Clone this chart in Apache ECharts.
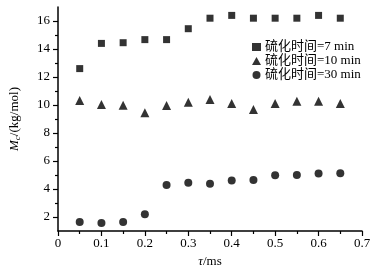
<!DOCTYPE html>
<html><head><meta charset="utf-8">
<script src="https://cdn.jsdelivr.net/npm/echarts@6/dist/echarts.min.js"></script>
<style>html,body{margin:0;padding:0;background:#fff}#c{width:377px;height:280px}</style>
</head><body><div id="c"></div>
<script>
const tau = [0.05,0.10,0.15,0.20,0.25,0.30,0.35,0.40,0.45,0.50,0.55,0.60,0.65];
const mc7 = [12.6,14.4,14.45,14.67,14.67,15.45,16.2,16.4,16.2,16.2,16.2,16.4,16.2];
const mc10 = [10.32,10.04,9.99,9.44,9.97,10.2,10.4,10.11,9.68,10.11,10.27,10.27,10.11];
const mc30 = [1.64,1.57,1.64,2.19,4.29,4.45,4.38,4.6,4.65,4.98,5.0,5.1,5.12];
const seriesNames = ['硫化时间=7 min','硫化时间=10 min','硫化时间=30 min'];
const yMajorTicks = [2,4,6,8,10,12,14,16];
const yMinorTicks = [3,5,7,9,11,13,15];
const xMinorTicks = [0.05,0.15,0.25,0.35,0.45,0.55,0.65];

const serif = '"Liberation Serif","Noto Sans CJK SC",serif';
const pair = (xs, ys) => xs.map((x,i)=>[x, ys[i]]);
const chart = echarts.init(document.getElementById('c'), null, {renderer:'canvas'});
const tickStyle = {color:'#000',width:1.2};
chart.setOption({
  animation:false,
  grid:{left:58,right:15,top:7,bottom:49},
  legend:{
    orient:'vertical', left:247, top:35, itemWidth:9, itemHeight:8, itemGap:0,
    textStyle:{fontFamily:serif,fontSize:13,color:'#000',lineHeight:14,padding:[0,0,0,-1]},
    data:seriesNames
  },
  xAxis:[{
    type:'value', min:0, max:0.7, interval:0.1,
    axisLine:{show:true,lineStyle:{color:'#000',width:1.5}}, splitLine:{show:false},
    axisTick:{show:true,inside:false,length:5,lineStyle:tickStyle},
    axisLabel:{fontFamily:serif,fontSize:13,color:'#000',margin:6, formatter:v=>String(+v.toFixed(1))},
    name:'{i|τ}/ms', nameLocation:'middle', nameGap:22,
    nameTextStyle:{fontFamily:serif,fontSize:13,color:'#000',
      rich:{i:{fontFamily:serif,fontStyle:'italic',fontSize:13,color:'#000'}}}
  },{
    type:'value', min:0, max:0.7, position:'bottom',
    axisLine:{show:false}, splitLine:{show:false},
    axisTick:{show:true,inside:false,length:3,customValues:xMinorTicks,lineStyle:tickStyle},
    axisLabel:{show:false}
  }],
  yAxis:[{
    type:'value', min:1, max:17,
    axisLine:{show:true,lineStyle:{color:'#000',width:1.5}}, splitLine:{show:false},
    axisTick:{show:true,inside:false,length:5,customValues:yMajorTicks,lineStyle:tickStyle},
    axisLabel:{fontFamily:serif,fontSize:13,color:'#000',margin:8,customValues:yMajorTicks},
    name:'{i|M}{s|c}/(kg/mol)', nameLocation:'middle', nameGap:36, nameRotate:90,
    nameTextStyle:{fontFamily:serif,fontSize:13,color:'#000',
      rich:{i:{fontFamily:serif,fontStyle:'italic',fontSize:13,color:'#000'},
            s:{fontFamily:serif,fontStyle:'italic',fontSize:9,color:'#000',verticalAlign:'bottom',padding:[6,0,0,0]}}}
  },{
    type:'value', min:1, max:17, position:'left',
    axisLine:{show:false}, splitLine:{show:false},
    axisTick:{show:true,inside:false,length:3,customValues:yMinorTicks,lineStyle:tickStyle},
    axisLabel:{show:false}
  }],
  series:[
    {name:seriesNames[0],type:'scatter',symbol:'rect',symbolSize:7,data:pair(tau,mc7),itemStyle:{color:'#000'}},
    {name:seriesNames[1],type:'scatter',symbol:'triangle',symbolSize:9,data:pair(tau,mc10),itemStyle:{color:'#000'}},
    {name:seriesNames[2],type:'scatter',symbol:'circle',symbolSize:8,data:pair(tau,mc30),itemStyle:{color:'#000'}}
  ]
});
</script></body></html>
